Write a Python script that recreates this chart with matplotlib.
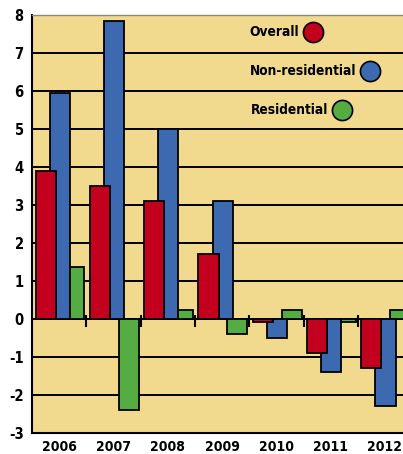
import matplotlib
matplotlib.use("Agg")
import matplotlib.pyplot as plt
import numpy as np
from matplotlib import font_manager

years = ["2006", "2007", "2008", "2009", "2010", "2011", "2012"]
overall = [3.9, 3.5, 3.1, 1.7, -0.08, -0.9, -1.3]
non_residential = [5.95, 7.85, 5.0, 3.1, -0.5, -1.4, -2.3]
residential = [1.38, -2.4, 0.25, -0.4, 0.25, -0.08, 0.25]
series_names = ["Overall", "Non-residential", "Residential"]
y_ticks = list(range(-3, 9))

RED = "#C4001F"
BLUE = "#3D69B1"
GREEN = "#55AC43"
BG = "#F1D98D"

names = {f.name for f in font_manager.fontManager.ttflist}
narrow = "Liberation Sans Narrow" in names

W, H = 403, 454
fig = plt.figure(figsize=(W / 100, H / 100), dpi=100)
left, right, top, bottom = 32, 403, 15, 433
ax = fig.add_axes([left / W, (H - bottom) / H, (right - left) / W, (bottom - top) / H])
ax.set_facecolor(BG)
fig.patch.set_facecolor("white")

x = np.arange(len(years))
px_per_unit = 54.3
ax.set_xlim(-0.5, -0.5 + (right - left) / px_per_unit)
ax.set_ylim(-3, 8)

bw = 0.37
kw = dict(edgecolor="black", linewidth=1.3)
ax.bar(x + 0.28, residential, bw, color=GREEN, zorder=3, **kw)
ax.bar(x + 0.01, non_residential, bw, color=BLUE, zorder=4, **kw)
ax.bar(x - 0.25, overall, bw, color=RED, zorder=5, **kw)

for v in y_ticks[1:-1]:
    ax.axhline(v, color="black", lw=1.4, zorder=2)

# category ticks on zero line
ax.vlines(x[:-1] + 0.5, -0.2, 0.1, color="black", lw=1.5, zorder=6)

ax.spines["right"].set_visible(False)
ax.spines["top"].set_color("#888888")
ax.spines["top"].set_linewidth(1.0)
ax.spines["left"].set_linewidth(1.5)
ax.spines["bottom"].set_linewidth(1.5)

if narrow:
    fp = dict(family=["Liberation Sans Narrow", "DejaVu Sans"], weight="bold")
    lsize, tsize, xsize = 12, 12, 11.5
else:
    fp = dict(family="DejaVu Sans", stretch="condensed", weight="bold")
    lsize, tsize, xsize = 9.8, 10.5, 10

ax.set_yticks(y_ticks)
ax.set_yticklabels([str(v) for v in y_ticks], fontsize=tsize, **fp)
ax.tick_params(axis="y", length=0, pad=6)
ax.set_xticks(x)
ax.set_xticklabels(years, fontsize=xsize, **fp)
ax.tick_params(axis="x", length=0, pad=5)

# legend
def to_data(px, py):
    return (-0.5 + (px - left) / px_per_unit, 8 - (py - top) * 11 / (bottom - top))

leg_pos = [(313, 32), (370, 71), (342, 110)]
for name, col, (cx, cy) in zip(series_names, [RED, BLUE, GREEN], leg_pos):
    dx, dy = to_data(cx, cy)
    ax.plot([dx], [dy], "o", ms=14.5, mfc=col, mec="black", mew=1.2, zorder=7, clip_on=False)
    ax.annotate(name, (dx, dy), xytext=(-10, 0), textcoords="offset points",
                ha="right", va="center", fontsize=lsize, zorder=7, **fp)

fig.savefig("out.png", dpi=100)
